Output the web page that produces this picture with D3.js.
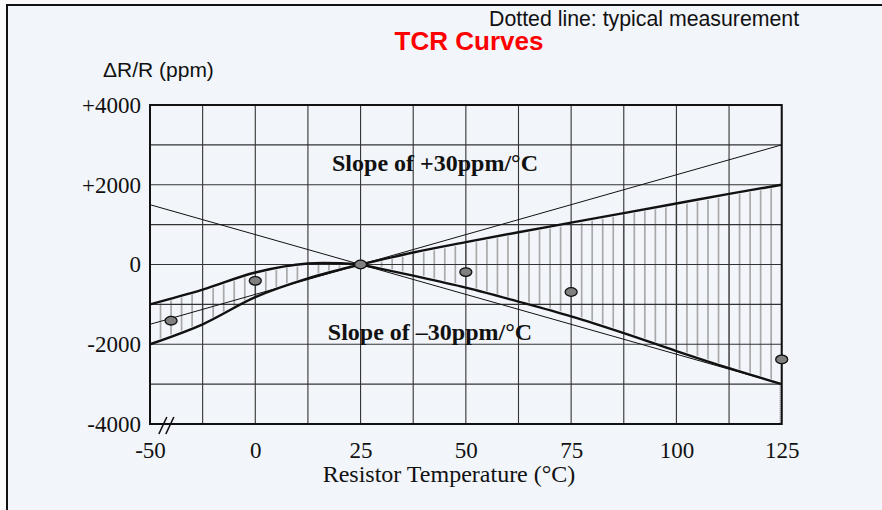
<!DOCTYPE html>
<html>
<head>
<meta charset="utf-8">
<script src="https://cdn.jsdelivr.net/npm/d3@7"></script>
<style>
  body { margin: 0; background: #fafafa; }
  svg { display: block; }
</style>
</head>
<body>
<div id="chart"></div>
<script>
// axis ticks (the left edge is a broken axis, labelled -50)
var xTickValues = [-25, 0, 25, 50, 75, 100, 125];
var xTickLabels = ["-50", "0", "25", "50", "75", "100", "125"];
var yTickValues = [4000, 2000, 0, -2000, -4000];
var yTickLabels = ["+4000", "+2000", "0", "-2000", "-4000"];
var xGridValues = [-25, -12.5, 0, 12.5, 25, 37.5, 50, 62.5, 75, 87.5, 100, 112.5, 125];
var yGridValues = [-4000, -3000, -2000, -1000, 0, 1000, 2000, 3000, 4000];

// upper / lower TCR limit curves
var curveTemps = [-25, -12.5, 0, 12.5, 25, 37.5, 50, 62.5, 75, 87.5, 100, 112.5, 125];
var upperPpm = [-1000, -630, -200, 25, 0, 300, 560, 810, 1050, 1290, 1530, 1770, 2000];
var lowerPpm = [-2000, -1500, -820, -350, 0, -280, -580, -930, -1300, -1720, -2170, -2600, -3000];

// reference slopes through 25°C
var slopeTemps = [-25, 125];
var slopePlus = [-1500, 3000];
var slopeMinus = [1500, -3000];

// typical measurement
var measTemps = [-20, 0, 25, 50, 75, 125];
var measPpm = [-1410, -410, 0, -190, -690, -2380];

var width = 882, height = 510;
var serif = "'Liberation Serif', 'Times New Roman', serif";
var sans = "'Liberation Sans', Arial, sans-serif";

var svg = d3.select("#chart").append("svg")
    .attr("width", width)
    .attr("height", height);

// panel
svg.append("rect")
    .attr("x", 7).attr("y", 5)
    .attr("width", width + 10).attr("height", height + 10)
    .attr("fill", "#f2f5fa")
    .attr("stroke", "#111")
    .attr("stroke-width", 2);

var x = d3.scaleLinear().domain([-25, 125]).range([150, 781.7]);
var y = d3.scaleLinear().domain([-4000, 4000]).range([424, 105]);

var upper = curveTemps.map(function (t, i) { return {t: t, v: upperPpm[i], lo: lowerPpm[i]}; });
var leftPart = upper.filter(function (d) { return d.t <= 25; });
var rightPart = upper.filter(function (d) { return d.t >= 25; });

var smooth = d3.curveCatmullRom.alpha(0.5);

// hatch between the curves, clipped to the band
var area = d3.area()
    .x(function (d) { return x(d.t); })
    .y0(function (d) { return y(d.lo) - 2; })
    .y1(function (d) { return y(d.v) + 2; })
    .curve(smooth);

var clip = svg.append("clipPath").attr("id", "band");
clip.append("path").attr("d", area(leftPart));
clip.append("path").attr("d", area(rightPart));

svg.append("g")
    .attr("clip-path", "url(#band)")
    .selectAll("line")
    .data(d3.range(-22.5, 125, 2.5))
    .enter().append("line")
    .attr("x1", function (d) { return x(d); })
    .attr("x2", function (d) { return x(d); })
    .attr("y1", y(4000))
    .attr("y2", y(-4000))
    .attr("stroke", "#a9a9a9")
    .attr("stroke-width", 1.7);

// grid
svg.append("g").selectAll("line")
    .data(xGridValues)
    .enter().append("line")
    .attr("x1", function (d) { return x(d); })
    .attr("x2", function (d) { return x(d); })
    .attr("y1", y(4000))
    .attr("y2", y(-4000))
    .attr("stroke", "#333")
    .attr("stroke-width", 1.1);

svg.append("g").selectAll("line")
    .data(yGridValues)
    .enter().append("line")
    .attr("x1", x(-25))
    .attr("x2", x(125))
    .attr("y1", function (d) { return y(d); })
    .attr("y2", function (d) { return y(d); })
    .attr("stroke", "#333")
    .attr("stroke-width", 1.1);

// dotted drop at 125°C under the lower curve
svg.append("line")
    .attr("x1", x(125) - 1.5).attr("x2", x(125) - 1.5)
    .attr("y1", y(lowerPpm[lowerPpm.length - 1]))
    .attr("y2", y(-4000))
    .attr("stroke", "#999")
    .attr("stroke-width", 1.5)
    .attr("stroke-dasharray", "1,1");

// thin slope lines
var straight = d3.line()
    .x(function (d) { return x(d[0]); })
    .y(function (d) { return y(d[1]); });

[slopePlus, slopeMinus].forEach(function (s) {
    svg.append("path")
        .attr("d", straight(slopeTemps.map(function (t, i) { return [t, s[i]]; })))
        .attr("fill", "none")
        .attr("stroke", "#111")
        .attr("stroke-width", 1);
});

// thick limit curves
var lineUp = d3.line()
    .x(function (d) { return x(d.t); })
    .y(function (d) { return y(d.v); })
    .curve(smooth);
var lineLo = d3.line()
    .x(function (d) { return x(d.t); })
    .y(function (d) { return y(d.lo); })
    .curve(smooth);

[leftPart, rightPart].forEach(function (part) {
    svg.append("path").attr("d", lineUp(part))
        .attr("fill", "none").attr("stroke", "#111").attr("stroke-width", 2.4);
    svg.append("path").attr("d", lineLo(part))
        .attr("fill", "none").attr("stroke", "#111").attr("stroke-width", 2.4);
});

// plot frame
svg.append("rect")
    .attr("x", x(-25)).attr("y", y(4000))
    .attr("width", x(125) - x(-25))
    .attr("height", y(-4000) - y(4000))
    .attr("fill", "none")
    .attr("stroke", "#111")
    .attr("stroke-width", 2);

// measurement markers
svg.append("g").selectAll("ellipse")
    .data(measTemps)
    .enter().append("ellipse")
    .attr("cx", function (d) { return x(d); })
    .attr("cy", function (d, i) { return y(measPpm[i]); })
    .attr("rx", 6)
    .attr("ry", 4.3)
    .attr("fill", "#808080")
    .attr("stroke", "#111")
    .attr("stroke-width", 1.3);

// axis break mark
var bx = x(-21);
[-4, 3].forEach(function (off) {
    svg.append("line")
        .attr("x1", bx + off - 4).attr("y1", y(-4000) + 10)
        .attr("x2", bx + off + 4).attr("y2", y(-4000) - 7)
        .attr("stroke", "#111")
        .attr("stroke-width", 1.6);
});

// axes (labels only)
var xAxis = svg.append("g")
    .attr("transform", "translate(0," + y(-4000) + ")")
    .call(d3.axisBottom(x).tickValues(xTickValues)
        .tickFormat(function (d, i) { return xTickLabels[i]; })
        .tickSize(0).tickPadding(18));
var yAxis = svg.append("g")
    .attr("transform", "translate(" + x(-25) + ",0)")
    .call(d3.axisLeft(y).tickValues(yTickValues)
        .tickFormat(function (d, i) { return yTickLabels[i]; })
        .tickSize(0).tickPadding(9));

[xAxis, yAxis].forEach(function (a) {
    a.select(".domain").remove();
    a.selectAll("text")
        .attr("fill", "#111")
        .style("font-family", serif)
        .style("font-size", "23px");
});

// texts
svg.append("text")
    .attr("x", 449).attr("y", 482)
    .attr("text-anchor", "middle")
    .style("font-family", serif).style("font-size", "24px")
    .attr("fill", "#111")
    .text("Resistor Temperature (°C)");

svg.append("text")
    .attr("x", 103).attr("y", 77)
    .style("font-family", sans).style("font-size", "21px")
    .attr("fill", "#111")
    .text("\u0394R/R (ppm)");

svg.append("text")
    .attr("x", 469).attr("y", 50)
    .attr("text-anchor", "middle")
    .style("font-family", sans).style("font-size", "26px")
    .style("font-weight", "bold")
    .attr("fill", "#ff0000")
    .text("TCR Curves");

svg.append("text")
    .attr("x", 489).attr("y", 26)
    .style("font-family", sans).style("font-size", "21.3px")
    .attr("fill", "#111")
    .text("Dotted line: typical measurement");

svg.append("text")
    .attr("x", 435).attr("y", 171)
    .attr("text-anchor", "middle")
    .style("font-family", serif).style("font-size", "24px")
    .style("font-weight", "bold")
    .attr("fill", "#111")
    .text("Slope of +30ppm/°C");

svg.append("text")
    .attr("x", 430).attr("y", 340)
    .attr("text-anchor", "middle")
    .style("font-family", serif).style("font-size", "24px")
    .style("font-weight", "bold")
    .attr("fill", "#111")
    .text("Slope of \u201330ppm/°C");
</script>
</body>
</html>
